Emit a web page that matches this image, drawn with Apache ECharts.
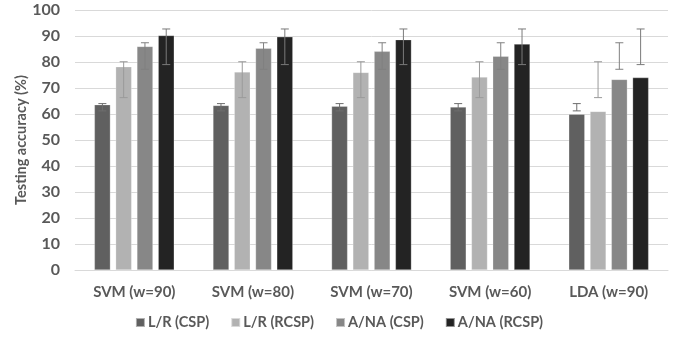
<!DOCTYPE html>
<html><head><meta charset="utf-8">
<script src="https://cdn.jsdelivr.net/npm/echarts@6/dist/echarts.min.js"></script>
<style>html,body{margin:0;padding:0;background:#fff}#c{width:678px;height:341px}</style>
</head><body><div id="c"></div>
<script>
const categories = ['SVM (w=90)', 'SVM (w=80)', 'SVM (w=70)', 'SVM (w=60)', 'LDA (w=90)'];
const seriesNames = ['L/R (CSP)', 'L/R (RCSP)', 'A/NA (CSP)', 'A/NA (RCSP)'];
const lrCsp   = [63.6, 63.3, 63.0, 62.7, 59.9];
const lrRcsp  = [78.2, 76.2, 76.0, 74.2, 61.0];
const anaCsp  = [86.0, 85.3, 84.1, 82.2, 73.3];
const anaRcsp = [90.2, 89.7, 88.6, 86.9, 74.0];
// error bar ranges (low, high) as drawn in the picture
const lrCspErrLow   = [61.2, 61.2, 61.2, 61.2, 61.2];
const lrCspErrHigh  = [64.0, 64.0, 64.0, 64.0, 64.0];
const lrRcspErrLow  = [66.3, 66.3, 66.3, 66.3, 66.3];
const lrRcspErrHigh = [80.1, 80.1, 80.1, 80.1, 80.1];
const anaCspErrLow  = [77.2, 77.2, 77.2, 77.2, 77.2];
const anaCspErrHigh = [87.4, 87.4, 87.4, 87.4, 87.4];
const anaRcspErrLow  = [79.0, 79.0, 79.0, 79.0, 79.0];
const anaRcspErrHigh = [92.7, 92.7, 92.7, 92.7, 92.7];
const yTicks = [0, 10, 20, 30, 40, 50, 60, 70, 80, 90, 100];

const values = [lrCsp, lrRcsp, anaCsp, anaRcsp];
const errLow = [lrCspErrLow, lrRcspErrLow, anaCspErrLow, anaRcspErrLow];
const errHigh = [lrCspErrHigh, lrRcspErrHigh, anaCspErrHigh, anaRcspErrHigh];
const colors = ['#606060', '#b2b2b2', '#878787', '#232323'];
const errColors = ['#6e6e6e', '#9a9a9a', '#808080', '#7a7a7a'];

const BAR_W = 16;
const GAP_PCT = 33;
const step = BAR_W * (1 + GAP_PCT / 100);
const FONT = 'Lato';
const TXT = '#595959';

const series = [];
values.forEach((v, i) => {
  series.push({
    name: seriesNames[i], type: 'bar', data: v,
    barWidth: BAR_W, barGap: GAP_PCT + '%',
    itemStyle: { color: colors[i], borderColor: 'rgba(255,255,255,0.5)', borderWidth: 0.5 },
    z: 2
  });
});
values.forEach((v, i) => {
  const off = (i - 1.5) * step;
  series.push({
    type: 'custom', name: seriesNames[i] + ' err', z: 5,
    data: categories.map((c, k) => [k, errLow[i][k], errHigh[i][k]]),
    encode: { x: 0, y: [1, 2] },
    silent: true,
    renderItem: function (params, api) {
      const lo = api.coord([api.value(0), api.value(1)]);
      const hi = api.coord([api.value(0), api.value(2)]);
      const x = lo[0] + off;
      const cw = 4;
      const st = { stroke: errColors[i], lineWidth: 1 };
      return { type: 'group', children: [
        { type: 'line', shape: { x1: x, y1: lo[1], x2: x, y2: hi[1] }, style: st },
        { type: 'line', shape: { x1: x - cw, y1: lo[1], x2: x + cw, y2: lo[1] }, style: st },
        { type: 'line', shape: { x1: x - cw, y1: hi[1], x2: x + cw, y2: hi[1] }, style: st }
      ]};
    }
  });
});

const chart = echarts.init(document.getElementById('c'), null, { renderer: 'canvas' });
chart.setOption({
  animation: false,
  backgroundColor: '#fff',
  grid: { left: 75, right: 10, top: 10, bottom: 71 },
  legend: {
    data: seriesNames, bottom: 6, left: 'center',
    itemWidth: 9, itemHeight: 9, itemGap: 21,
    icon: 'rect',
    textStyle: { fontFamily: FONT, fontSize: 14.5, fontWeight: 'bold', color: TXT, padding: [0, 0, 0, -2] }
  },
  xAxis: {
    type: 'category', data: categories,
    axisLine: { lineStyle: { color: '#d9d9d9' } },
    axisTick: { show: false },
    axisLabel: { margin: 15, fontFamily: FONT, fontSize: 15, fontWeight: 'bold', color: TXT }
  },
  yAxis: {
    type: 'value', min: yTicks[0], max: yTicks[yTicks.length - 1], interval: 10,
    name: 'Testing accuracy (%)', nameLocation: 'middle', nameGap: 46,
    nameMoveOverlap: false,
    nameTextStyle: { fontFamily: FONT, fontSize: 14.5, fontWeight: 'bold', color: TXT },
    axisLine: { show: false }, axisTick: { show: false },
    splitLine: { lineStyle: { color: '#d9d9d9' } },
    axisLabel: { margin: 15, fontFamily: FONT, fontSize: 16, fontWeight: 'bold', color: TXT }
  },
  series: series
});
</script></body></html>
